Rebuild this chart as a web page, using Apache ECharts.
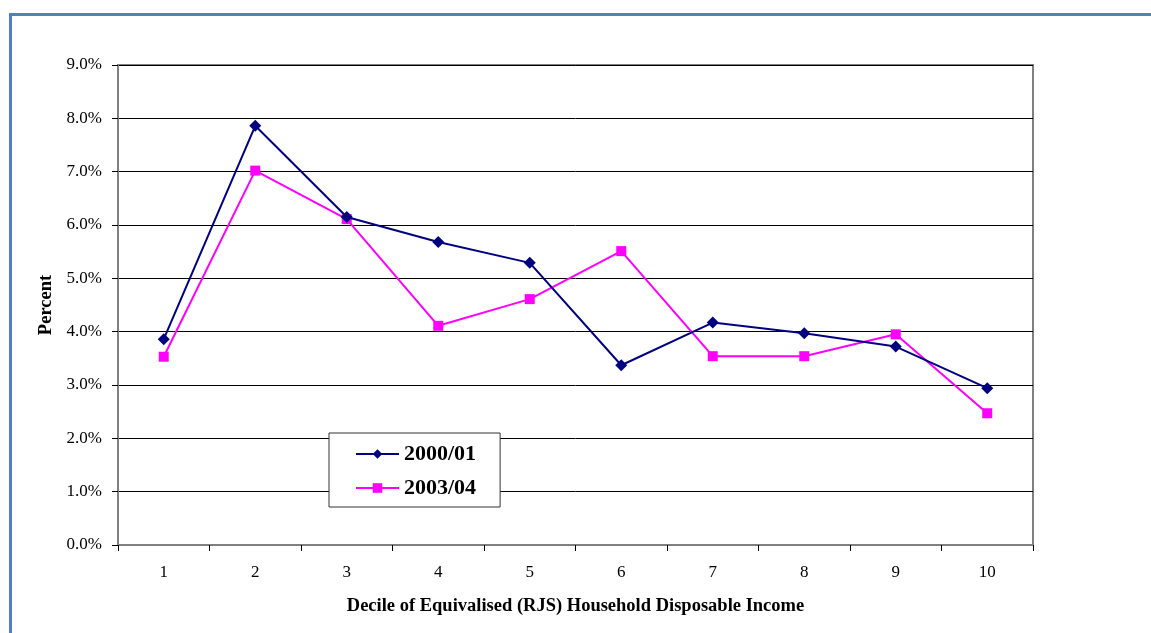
<!DOCTYPE html>
<html>
<head>
<meta charset="utf-8">
<script src="https://cdn.jsdelivr.net/npm/echarts@6/dist/echarts.min.js"></script>
<style>
  html, body { margin: 0; padding: 0; background: #fff; }
  #chart { width: 1151px; height: 633px; }
</style>
</head>
<body>
<div id="chart"></div>
<script>
// Deciles of equivalised household disposable income
const deciles = ['1', '2', '3', '4', '5', '6', '7', '8', '9', '10'];
// Percent in each decile, per survey year
const series2000 = [3.86, 7.86, 6.15, 5.68, 5.29, 3.37, 4.17, 3.97, 3.72, 2.94];
const series2003 = [3.53, 7.02, 6.11, 4.11, 4.61, 5.51, 3.54, 3.54, 3.95, 2.47];
const seriesNames = ['2000/01', '2003/04'];

const serif = "'Liberation Serif', 'Times New Roman', serif";

const chart = echarts.init(document.getElementById('chart'), null, { renderer: 'canvas' });

chart.setOption({
  animation: false,
  backgroundColor: '#ffffff',
  graphic: [{
    type: 'rect',
    shape: { x: 10.5, y: 14.5, width: 1200, height: 700 },
    style: { fill: 'none', stroke: '#4f81bd', lineWidth: 3 },
    silent: true
  }],
  grid: {
    left: 118, right: 118, top: 65, bottom: 88,
    show: true, borderColor: '#808080', borderWidth: 2, backgroundColor: 'transparent'
  },
  legend: {
    orient: 'vertical',
    left: 329, top: 433,
    data: seriesNames,
    backgroundColor: '#ffffff',
    borderColor: '#333333',
    borderWidth: 1,
    padding: [10, 24, 8, 26],
    itemWidth: 43,
    itemHeight: 12,
    itemGap: 12,
    textStyle: { fontFamily: serif, fontWeight: 'bold', fontSize: 22, color: '#000' }
  },
  xAxis: {
    type: 'category',
    data: deciles,
    boundaryGap: true,
    name: 'Decile of Equivalised (RJS) Household Disposable Income',
    nameLocation: 'middle',
    nameGap: 52,
    nameTextStyle: { fontFamily: serif, fontWeight: 'bold', fontSize: 18.5, color: '#000' },
    axisLine: { show: true, lineStyle: { color: '#808080', width: 2 } },
    axisTick: { show: true, inside: false, length: 6, lineStyle: { color: '#000', width: 1 } },
    axisLabel: { fontFamily: serif, fontSize: 17, color: '#000', margin: 19 },
    splitLine: { show: false }
  },
  yAxis: {
    type: 'value',
    min: 0, max: 9, interval: 1,
    name: 'Percent',
    nameLocation: 'middle',
    nameGap: 61,
    nameRotate: 90,
    nameTextStyle: { fontFamily: serif, fontWeight: 'bold', fontSize: 18.5, color: '#000' },
    axisLine: { show: true, lineStyle: { color: '#808080', width: 2 } },
    axisTick: { show: true, inside: false, length: 6, lineStyle: { color: '#000', width: 1 } },
    axisLabel: {
      fontFamily: serif, fontSize: 17, color: '#000', margin: 16,
      formatter: v => v.toFixed(1) + '%'
    },
    splitLine: { show: true, lineStyle: { color: '#000', width: 1 } }
  },
  series: [
    {
      name: seriesNames[0],
      type: 'line',
      data: series2000,
      symbol: 'diamond',
      symbolSize: 12,
      itemStyle: { color: '#000080' },
      lineStyle: { color: '#000080', width: 2 },
      z: 3
    },
    {
      name: seriesNames[1],
      type: 'line',
      data: series2003,
      symbol: 'rect',
      symbolSize: 10,
      itemStyle: { color: '#ff00ff' },
      lineStyle: { color: '#ff00ff', width: 2 },
      z: 2
    }
  ]
});
</script>
</body>
</html>
